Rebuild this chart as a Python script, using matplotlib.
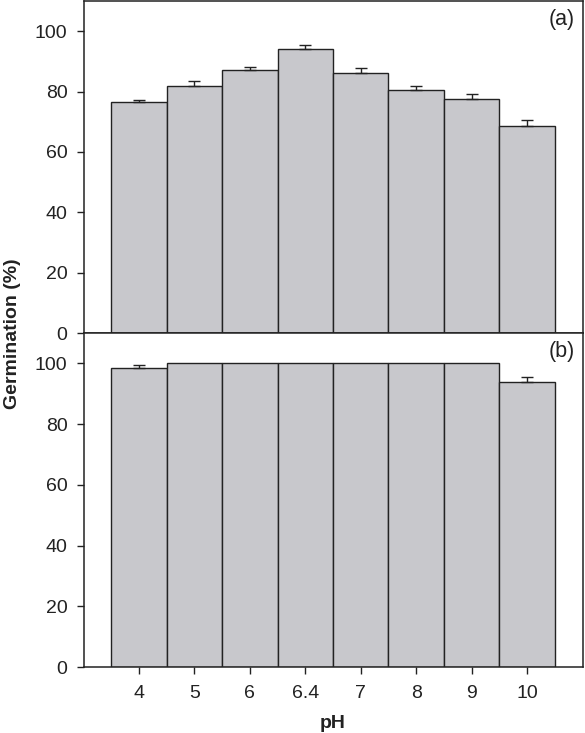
import matplotlib
matplotlib.use("Agg")
import matplotlib.pyplot as plt
import numpy as np

plt.rcParams['font.family'] = ['Liberation Sans', 'DejaVu Sans']

ph_labels = ["4", "5", "6", "6.4", "7", "8", "9", "10"]
germ_a = [76.6, 81.9, 87.3, 94.0, 86.0, 80.6, 77.4, 68.5]
err_a = [0.7, 1.5, 0.7, 1.5, 1.7, 1.3, 1.9, 2.1]
germ_b = [98.6, 100, 100, 100, 100, 100, 100, 94.0]
err_b = [1.0, 0, 0, 0, 0, 0, 0, 1.4]
panel_labels = ["(a)", "(b)"]

W, H = 585, 733
fig = plt.figure(figsize=(W / 100, H / 100), dpi=100)
left, right = 83.5 / W, 582.5 / W
ax_a = fig.add_axes([left, 1 - 333 / H, right - left, (333 - 1) / H])
ax_b = fig.add_axes([left, 1 - 667 / H, right - left, (667 - 333) / H])

x = np.arange(len(ph_labels))
bar_color = "#c8c8cc"
for ax, vals, errs, lab in [(ax_a, germ_a, err_a, panel_labels[0]),
                            (ax_b, germ_b, err_b, panel_labels[1])]:
    ax.bar(x, vals, width=1.0, color=bar_color, edgecolor="#222222",
           linewidth=1.0, zorder=2)
    vals_arr = np.array(vals)
    errs_arr = np.array(errs)
    m = errs_arr > 0
    ax.errorbar(x[m], vals_arr[m], yerr=[np.zeros(m.sum()), errs_arr[m]],
                fmt="none", ecolor="#222222", elinewidth=1.0, capsize=4,
                capthick=1.0, zorder=3)
    ax.set_xlim(-1, 8)
    ax.set_ylim(0, 110)
    ax.set_yticks([0, 20, 40, 60, 80, 100])
    ax.set_xticks(x)
    ax.tick_params(axis="both", direction="out", length=5, width=1.0,
                   labelsize=14, colors="#222222")
    ax.tick_params(axis="y", pad=6.5)
    for s in ax.spines.values():
        s.set_linewidth(1.1)
        s.set_color("#222222")
    ax.text(0.985, 0.975, lab, transform=ax.transAxes, ha="right", va="top",
            fontsize=15.5, color="#222222")

ax_a.set_xticklabels([])
ax_b.set_xticklabels(ph_labels)
ax_b.tick_params(axis="x", pad=8)
ax_b.set_xlabel("pH", fontsize=14, fontweight="bold", labelpad=9,
                color="#222222")
fig.text(13 / W, 1 - 334 / H, "Germination (%)", rotation=90, ha="center",
         va="center", fontsize=14, fontweight="bold", color="#222222")

fig.savefig("out.png", dpi=100)
